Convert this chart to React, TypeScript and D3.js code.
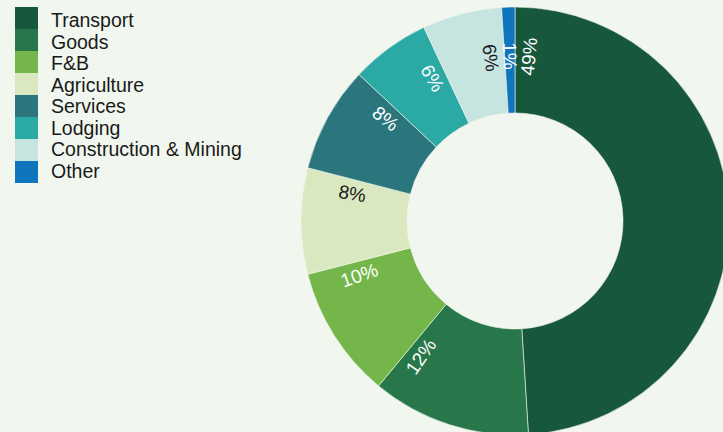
import React from "react";
import * as d3 from "d3";

const categories = ["Transport", "Goods", "F&B", "Agriculture", "Services", "Lodging", "Construction & Mining", "Other"];
const shares = [49, 12, 10, 8, 8, 6, 6, 1];
const colors = ["#17573c", "#27774a", "#74b649", "#dae8c0", "#2b767d", "#2ba9a4", "#c6e4e0", "#0f76bd"];
const labelColors = ["#ffffff", "#ffffff", "#ffffff", "#1a1a1a", "#ffffff", "#ffffff", "#1a1a1a", "#ffffff"];

const W = 723;
const H = 432;
const BG = "#f1f7ee";
const FONT = "'Liberation Sans', Arial, Helvetica, sans-serif";

export default function App() {
  const cx = 515;
  const cy = 221;
  const rOuter = 214;
  const rInner = 108;
  const rLabel = 165;
  const edgeOffset = 14 / rLabel; // radians from slice edge

  const pie = d3.pie<number>().sort(null).value((d) => d);
  const arcs = pie(shares);
  const arcGen = d3.arc<d3.PieArcDatum<number>>().innerRadius(rInner).outerRadius(rOuter);

  const legendY = d3.scaleBand<string>().domain(categories).range([7, 183]).padding(0);

  return (
    <svg width={W} height={H} style={{ position: "absolute", left: 0, top: 0, display: "block" }}>
      <rect x={0} y={0} width={W} height={H} fill={BG} />
      <g transform={`translate(${cx},${cy})`}>
        {arcs.map((a, i) => (
          <path key={categories[i]} d={arcGen(a) || ""} fill={colors[i]} stroke={BG} strokeWidth={0.6} />
        ))}
        {arcs.map((a, i) => {
          const mid = (a.startAngle + a.endAngle) / 2;
          const flipped = mid >= Math.PI;
          const ang = flipped ? Math.max(mid, a.endAngle - edgeOffset) : Math.min(mid, a.startAngle + edgeOffset);
          const x = rLabel * Math.sin(ang);
          const y = -rLabel * Math.cos(ang);
          const deg = (ang * 180) / Math.PI;
          const rot = flipped ? deg - 270 : deg - 90;
          return (
            <text
              key={"l" + i}
              transform={`translate(${x},${y}) rotate(${rot})`}
              textAnchor="middle"
              dominantBaseline="central"
              fontFamily={FONT}
              fontSize={19}
              fill={labelColors[i]}
            >
              {`${shares[i]}%`}
            </text>
          );
        })}
      </g>
      <g>
        {categories.map((c, i) => (
          <g key={"lg" + c}>
            <rect x={15} y={legendY(c)} width={23} height={legendY.bandwidth()} fill={colors[i]} />
            <text
              x={51}
              y={27 + i * 21.5}
              fontFamily={FONT}
              fontSize={19.5}
              fill="#1a1a1a"
            >
              {c}
            </text>
          </g>
        ))}
      </g>
    </svg>
  );
}
